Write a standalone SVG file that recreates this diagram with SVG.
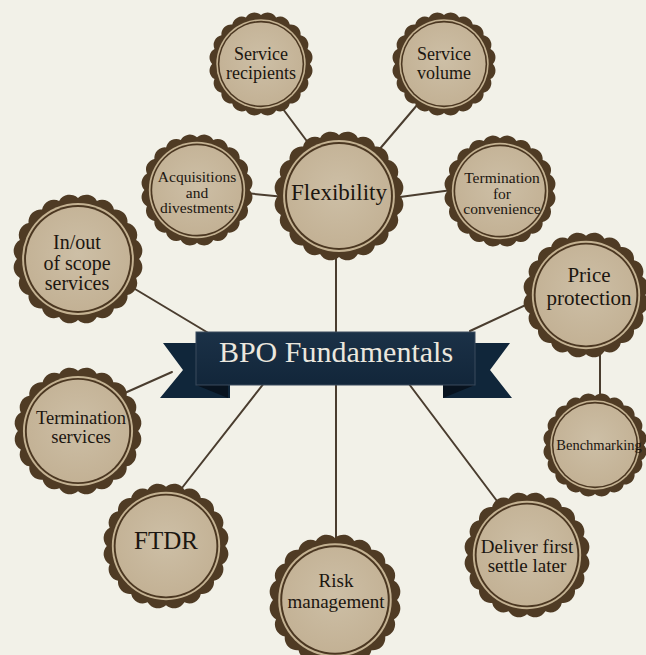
<svg xmlns="http://www.w3.org/2000/svg" xmlns:xlink="http://www.w3.org/1999/xlink" width="646" height="655" viewBox="0 0 646 655">
  <style>
    .edge { fill: #4f3b24; }
    .ring { fill: #c4b292; }
    .band { fill: #4b3721; }
    .face { fill: url(#faceGrad); }
    .wire { stroke: #4a3d2f; stroke-width: 2; fill: none; stroke-linecap: round; }
    .lbl { font-family: "Liberation Serif", "DejaVu Serif", serif; fill: #1c1610; text-anchor: middle; }
    .title { font-family: "Liberation Serif", "DejaVu Serif", serif; fill: #ebe7de; text-anchor: middle; font-size: 30px; }
    .tail { fill: #10263a; }
    .fold { fill: #08131f; }
  </style>
  <defs>
    <radialGradient id="faceGrad" cx="50%" cy="45%" r="60%">
      <stop offset="0" stop-color="#cdbfa6"/>
      <stop offset="1" stop-color="#c2b093"/>
    </radialGradient>
    <linearGradient id="bannerGrad" x1="0" y1="0" x2="0" y2="1">
      <stop offset="0" stop-color="#1b3147"/>
      <stop offset="1" stop-color="#12263a"/>
    </linearGradient>
    <!-- bottle-cap badge, radius 100 at the tips, 20 shallow scallops -->
    <g id="cap">
      <path class="edge" d="M94,0 A18.7,18.7 0 0 1 89.4,29.05 A18.7,18.7 0 0 1 76.05,55.25 A18.7,18.7 0 0 1 55.25,76.05 A18.7,18.7 0 0 1 29.05,89.4 A18.7,18.7 0 0 1 0,94 A18.7,18.7 0 0 1 -29.05,89.4 A18.7,18.7 0 0 1 -55.25,76.05 A18.7,18.7 0 0 1 -76.05,55.25 A18.7,18.7 0 0 1 -89.4,29.05 A18.7,18.7 0 0 1 -94,0 A18.7,18.7 0 0 1 -89.4,-29.05 A18.7,18.7 0 0 1 -76.05,-55.25 A18.7,18.7 0 0 1 -55.25,-76.05 A18.7,18.7 0 0 1 -29.05,-89.4 A18.7,18.7 0 0 1 0,-94 A18.7,18.7 0 0 1 29.05,-89.4 A18.7,18.7 0 0 1 55.25,-76.05 A18.7,18.7 0 0 1 76.05,-55.25 A18.7,18.7 0 0 1 89.4,-29.05 A18.7,18.7 0 0 1 94,0 Z"/>
      <circle class="ring" r="86"/>
      <circle class="band" r="83"/>
      <circle class="face" r="80"/>
    </g>
  </defs>

  <rect width="646" height="655" fill="#f2f1e8"/>

  <!-- connectors -->
  <g id="connectors">
    <line class="wire" x1="280" y1="105" x2="312" y2="148"/>
    <line class="wire" x1="418" y1="104" x2="378" y2="151"/>
    <line class="wire" x1="245" y1="193" x2="285" y2="197"/>
    <line class="wire" x1="400" y1="197" x2="452" y2="190"/>
    <line class="wire" x1="336" y1="250" x2="336" y2="340"/>
    <line class="wire" x1="130" y1="286" x2="210" y2="334"/>
    <line class="wire" x1="530" y1="303" x2="470" y2="331"/>
    <line class="wire" x1="600" y1="350" x2="600" y2="400"/>
    <line class="wire" x1="118" y1="396" x2="172" y2="372"/>
    <line class="wire" x1="178" y1="493" x2="272" y2="373"/>
    <line class="wire" x1="336" y1="380" x2="336" y2="540"/>
    <line class="wire" x1="400" y1="372" x2="500" y2="505"/>
  </g>

  <!-- central banner -->
  <g id="bpo-fundamentals">
    <polygon class="tail" points="163,343 230,343 230,398 160,398 183,370"/>
    <polygon class="tail" points="510,343 443,343 443,398 512,398 490,370"/>
    <polygon class="fold" points="196,385 228,385 228,398"/>
    <polygon class="fold" points="475,385 443,385 443,398"/>
    <rect x="196" y="332" width="279" height="53" fill="url(#bannerGrad)" stroke="#3a4b5c" stroke-width="1"/>
    <text class="title" x="336" y="362">BPO Fundamentals</text>
  </g>

  <g id="service-recipients">
    <use xlink:href="#cap" transform="translate(261,64) scale(0.52)"/>
    <text class="lbl" font-size="18" x="261" y="60">Service</text>
    <text class="lbl" font-size="18" x="261" y="79">recipients</text>
  </g>

  <g id="service-volume">
    <use xlink:href="#cap" transform="translate(444,64) scale(0.52)"/>
    <text class="lbl" font-size="18" x="444" y="60">Service</text>
    <text class="lbl" font-size="18" x="444" y="79">volume</text>
  </g>

  <g id="acquisitions">
    <use xlink:href="#cap" transform="translate(197,190) scale(0.56)"/>
    <text class="lbl" font-size="15.5" x="197" y="182">Acquisitions</text>
    <text class="lbl" font-size="15.5" x="197" y="197.5">and</text>
    <text class="lbl" font-size="15.5" x="197" y="213">divestments</text>
  </g>

  <g id="flexibility">
    <use xlink:href="#cap" transform="translate(339,196) scale(0.65)"/>
    <text class="lbl" font-size="23" x="339" y="200">Flexibility</text>
  </g>

  <g id="termination-convenience">
    <use xlink:href="#cap" transform="translate(500,191) scale(0.56)"/>
    <text class="lbl" font-size="15.5" x="502" y="183">Termination</text>
    <text class="lbl" font-size="15.5" x="502" y="198.5">for</text>
    <text class="lbl" font-size="15.5" x="502" y="214">convenience</text>
  </g>

  <g id="scope-services">
    <use xlink:href="#cap" transform="translate(78,259) scale(0.65)"/>
    <text class="lbl" font-size="20" x="77" y="249">In/out</text>
    <text class="lbl" font-size="20" x="77" y="270">of scope</text>
    <text class="lbl" font-size="20" x="77" y="290">services</text>
  </g>

  <g id="price-protection">
    <use xlink:href="#cap" transform="translate(586,295) scale(0.63)"/>
    <text class="lbl" font-size="21" x="589" y="282">Price</text>
    <text class="lbl" font-size="21" x="589" y="305">protection</text>
  </g>

  <g id="termination-services">
    <use xlink:href="#cap" transform="translate(78,431) scale(0.64)"/>
    <text class="lbl" font-size="18.5" x="81" y="424">Termination</text>
    <text class="lbl" font-size="18.5" x="81" y="443">services</text>
  </g>

  <g id="benchmarking">
    <use xlink:href="#cap" transform="translate(595,445) scale(0.52)"/>
    <text class="lbl" font-size="14.5" x="599" y="450">Benchmarking</text>
  </g>

  <g id="ftdr">
    <use xlink:href="#cap" transform="translate(166,546) scale(0.63)"/>
    <text class="lbl" font-size="25" x="166" y="549">FTDR</text>
  </g>

  <g id="risk-management">
    <use xlink:href="#cap" transform="translate(335,600) scale(0.66)"/>
    <text class="lbl" font-size="19" x="336" y="587">Risk</text>
    <text class="lbl" font-size="19" x="336" y="608">management</text>
  </g>

  <g id="deliver-first">
    <use xlink:href="#cap" transform="translate(527,555) scale(0.63)"/>
    <text class="lbl" font-size="19" x="527" y="553">Deliver first</text>
    <text class="lbl" font-size="19" x="527" y="572">settle later</text>
  </g>
</svg>
